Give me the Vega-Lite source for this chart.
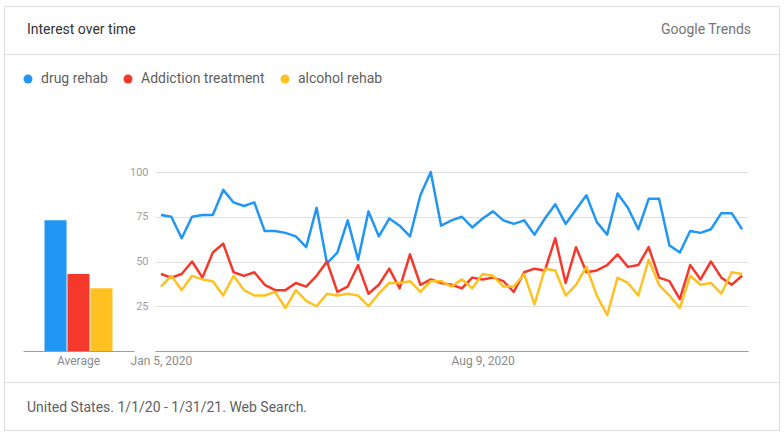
{
  "$schema": "https://vega.github.io/schema/vega-lite/v6.json",
  "background": "white",
  "padding": {"left": 3, "top": 5, "right": 5, "bottom": 2},
  "spacing": 0,
  "bounds": "flush",
  "config": {
    "font": "Roboto",
    "view": {"stroke": "#dadce0", "strokeWidth": 1},
    "title": {"font": "Roboto", "fontWeight": "normal"}
  },
  "title": {"text": "Interest over time", "anchor": "start", "frame": "group", "dx": 23, "offset": -31, "fontSize": 14, "color": "#333333"},
  "datasets": {
    "weekly": [
      {"week": "2020-01-05", "drug rehab": 76, "Addiction treatment": 43, "alcohol rehab": 36},
      {"week": "2020-01-12", "drug rehab": 75, "Addiction treatment": 41, "alcohol rehab": 42},
      {"week": "2020-01-19", "drug rehab": 63, "Addiction treatment": 43, "alcohol rehab": 34},
      {"week": "2020-01-26", "drug rehab": 75, "Addiction treatment": 50, "alcohol rehab": 42},
      {"week": "2020-02-02", "drug rehab": 76, "Addiction treatment": 41, "alcohol rehab": 40},
      {"week": "2020-02-09", "drug rehab": 76, "Addiction treatment": 55, "alcohol rehab": 39},
      {"week": "2020-02-16", "drug rehab": 90, "Addiction treatment": 60, "alcohol rehab": 31},
      {"week": "2020-02-23", "drug rehab": 83, "Addiction treatment": 44, "alcohol rehab": 42},
      {"week": "2020-03-01", "drug rehab": 81, "Addiction treatment": 42, "alcohol rehab": 34},
      {"week": "2020-03-08", "drug rehab": 83, "Addiction treatment": 44, "alcohol rehab": 31},
      {"week": "2020-03-15", "drug rehab": 67, "Addiction treatment": 37, "alcohol rehab": 31},
      {"week": "2020-03-22", "drug rehab": 67, "Addiction treatment": 34, "alcohol rehab": 33},
      {"week": "2020-03-29", "drug rehab": 66, "Addiction treatment": 34, "alcohol rehab": 24},
      {"week": "2020-04-05", "drug rehab": 64, "Addiction treatment": 38, "alcohol rehab": 34},
      {"week": "2020-04-12", "drug rehab": 58, "Addiction treatment": 36, "alcohol rehab": 28},
      {"week": "2020-04-19", "drug rehab": 80, "Addiction treatment": 42, "alcohol rehab": 25},
      {"week": "2020-04-26", "drug rehab": 49, "Addiction treatment": 50, "alcohol rehab": 32},
      {"week": "2020-05-03", "drug rehab": 55, "Addiction treatment": 33, "alcohol rehab": 31},
      {"week": "2020-05-10", "drug rehab": 73, "Addiction treatment": 36, "alcohol rehab": 32},
      {"week": "2020-05-17", "drug rehab": 51, "Addiction treatment": 48, "alcohol rehab": 31},
      {"week": "2020-05-24", "drug rehab": 78, "Addiction treatment": 32, "alcohol rehab": 25},
      {"week": "2020-05-31", "drug rehab": 64, "Addiction treatment": 37, "alcohol rehab": 32},
      {"week": "2020-06-07", "drug rehab": 74, "Addiction treatment": 46, "alcohol rehab": 38},
      {"week": "2020-06-14", "drug rehab": 70, "Addiction treatment": 35, "alcohol rehab": 38},
      {"week": "2020-06-21", "drug rehab": 64, "Addiction treatment": 54, "alcohol rehab": 39},
      {"week": "2020-06-28", "drug rehab": 87, "Addiction treatment": 37, "alcohol rehab": 33},
      {"week": "2020-07-05", "drug rehab": 100, "Addiction treatment": 40, "alcohol rehab": 39},
      {"week": "2020-07-12", "drug rehab": 70, "Addiction treatment": 38, "alcohol rehab": 39},
      {"week": "2020-07-19", "drug rehab": 73, "Addiction treatment": 37, "alcohol rehab": 36},
      {"week": "2020-07-26", "drug rehab": 75, "Addiction treatment": 35, "alcohol rehab": 40},
      {"week": "2020-08-02", "drug rehab": 69, "Addiction treatment": 41, "alcohol rehab": 35},
      {"week": "2020-08-09", "drug rehab": 74, "Addiction treatment": 40, "alcohol rehab": 43},
      {"week": "2020-08-16", "drug rehab": 78, "Addiction treatment": 41, "alcohol rehab": 42},
      {"week": "2020-08-23", "drug rehab": 73, "Addiction treatment": 39, "alcohol rehab": 36},
      {"week": "2020-08-30", "drug rehab": 71, "Addiction treatment": 33, "alcohol rehab": 36},
      {"week": "2020-09-06", "drug rehab": 73, "Addiction treatment": 44, "alcohol rehab": 43},
      {"week": "2020-09-13", "drug rehab": 65, "Addiction treatment": 46, "alcohol rehab": 26},
      {"week": "2020-09-20", "drug rehab": 74, "Addiction treatment": 45, "alcohol rehab": 46},
      {"week": "2020-09-27", "drug rehab": 82, "Addiction treatment": 63, "alcohol rehab": 45},
      {"week": "2020-10-04", "drug rehab": 71, "Addiction treatment": 38, "alcohol rehab": 31},
      {"week": "2020-10-11", "drug rehab": 79, "Addiction treatment": 58, "alcohol rehab": 37},
      {"week": "2020-10-18", "drug rehab": 87, "Addiction treatment": 44, "alcohol rehab": 47},
      {"week": "2020-10-25", "drug rehab": 72, "Addiction treatment": 45, "alcohol rehab": 31},
      {"week": "2020-11-01", "drug rehab": 65, "Addiction treatment": 48, "alcohol rehab": 20},
      {"week": "2020-11-08", "drug rehab": 88, "Addiction treatment": 54, "alcohol rehab": 41},
      {"week": "2020-11-15", "drug rehab": 80, "Addiction treatment": 47, "alcohol rehab": 38},
      {"week": "2020-11-22", "drug rehab": 68, "Addiction treatment": 48, "alcohol rehab": 31},
      {"week": "2020-11-29", "drug rehab": 85, "Addiction treatment": 58, "alcohol rehab": 51},
      {"week": "2020-12-06", "drug rehab": 85, "Addiction treatment": 41, "alcohol rehab": 37},
      {"week": "2020-12-13", "drug rehab": 59, "Addiction treatment": 39, "alcohol rehab": 31},
      {"week": "2020-12-20", "drug rehab": 55, "Addiction treatment": 29, "alcohol rehab": 24},
      {"week": "2020-12-27", "drug rehab": 67, "Addiction treatment": 48, "alcohol rehab": 42},
      {"week": "2021-01-03", "drug rehab": 66, "Addiction treatment": 40, "alcohol rehab": 37},
      {"week": "2021-01-10", "drug rehab": 68, "Addiction treatment": 50, "alcohol rehab": 38},
      {"week": "2021-01-17", "drug rehab": 77, "Addiction treatment": 41, "alcohol rehab": 32},
      {"week": "2021-01-24", "drug rehab": 77, "Addiction treatment": 37, "alcohol rehab": 44},
      {"week": "2021-01-31", "drug rehab": 68, "Addiction treatment": 42, "alcohol rehab": 43}
    ],
    "average": [
      {"period": "Average", "term": "drug rehab", "interest": 73},
      {"period": "Average", "term": "Addiction treatment", "interest": 43},
      {"period": "Average", "term": "alcohol rehab", "interest": 35}
    ],
    "blank": [{}]
  },
  "vconcat": [
    {
      "width": 775,
      "height": 48,
      "view": {"stroke": "#dadce0", "strokeWidth": 1},
      "data": {"name": "blank"},
      "mark": {"type": "text"},
      "encoding": {"text": {"value": ""}},
      "title": {"text": "Google Trends", "anchor": "end", "frame": "group", "dx": -28, "offset": -31, "fontSize": 14, "color": "#757575"}
    },
    {
      "width": 775,
      "height": 328,
      "layer": [
        {
          "data": {"name": "weekly"},
          "transform": [{"fold": ["drug rehab", "Addiction treatment", "alcohol rehab"], "as": ["term", "interest"]}],
          "mark": {"type": "line", "strokeWidth": 2.5, "strokeJoin": "round"},
          "encoding": {
            "x": {
              "field": "week", "type": "temporal",
              "scale": {"type": "utc", "domain": [{"year": 2020, "month": 1, "date": 1, "utc": true}, {"year": 2021, "month": 2, "date": 4, "utc": true}], "range": [151, 744]},
              "axis": {"orient": "bottom", "offset": -31, "title": null, "values": [{"year": 2020, "month": 1, "date": 5, "utc": true}, {"year": 2020, "month": 8, "date": 9, "utc": true}], "format": "%b %-d, %Y", "ticks": false, "tickSize": 0, "labelPadding": 4, "labelFontSize": 12, "labelColor": "#8a8a8a", "domainColor": "#9e9e9e", "grid": false, "labelOverlap": false}
            },
            "y": {
              "field": "interest", "type": "quantitative",
              "scale": {"domain": [0, 100], "range": [297, 118], "nice": false, "zero": true},
              "axis": {"orient": "left", "offset": -151, "title": null, "values": [25, 50, 75, 100], "domain": false, "ticks": false, "tickSize": 0, "labelPadding": 7, "labelFontSize": 11, "labelColor": "#a0a0a0", "grid": true, "gridColor": "#e0e0e0"}
            },
            "color": {
              "field": "term", "type": "nominal",
              "scale": {"domain": ["drug rehab", "Addiction treatment", "alcohol rehab"], "range": ["#2196f3", "#f4392c", "#ffc121"]},
              "legend": {
                "title": null, "orient": "none", "direction": "horizontal", "legendX": 17, "legendY": 66,
                "symbolType": "circle", "symbolSize": 80, "symbolStrokeWidth": 0, "symbolOpacity": 1,
                "labelFontSize": 14, "labelColor": "#5f5f5f", "labelFont": "Roboto", "labelOffset": 6, "columnPadding": 13, "padding": 0,
                "encode": {"symbols": {"update": {"strokeWidth": {"value": 0}}}}
              }
            }
          }
        },
        {
          "data": {"name": "average"},
          "mark": {"type": "bar"},
          "encoding": {
            "x": {
              "field": "period", "type": "nominal",
              "scale": {"range": [19, 130], "paddingInner": 0, "paddingOuter": 0.316, "align": 0.5},
              "axis": {"orient": "bottom", "offset": -31, "title": null, "labelAngle": 0, "ticks": false, "tickSize": 0, "labelPadding": 4, "labelFontSize": 12, "labelColor": "#8a8a8a", "domainColor": "#9e9e9e", "grid": false}
            },
            "xOffset": {
              "field": "term", "type": "nominal",
              "scale": {"domain": ["drug rehab", "Addiction treatment", "alcohol rehab"], "paddingInner": 0.04, "paddingOuter": 0}
            },
            "y": {"field": "interest", "type": "quantitative"},
            "color": {"field": "term", "type": "nominal"}
          }
        }
      ],
      "resolve": {"scale": {"x": "independent"}, "axis": {"x": "independent"}}
    },
    {
      "width": 775,
      "height": 48,
      "view": {"stroke": "#dadce0", "strokeWidth": 1},
      "data": {"name": "blank"},
      "mark": {"type": "text"},
      "encoding": {"text": {"value": ""}},
      "title": {"text": "United States. 1/1/20 - 1/31/21. Web Search.", "anchor": "start", "frame": "group", "dx": 23, "offset": -33, "fontSize": 14, "color": "#616161"}
    }
  ]
}
